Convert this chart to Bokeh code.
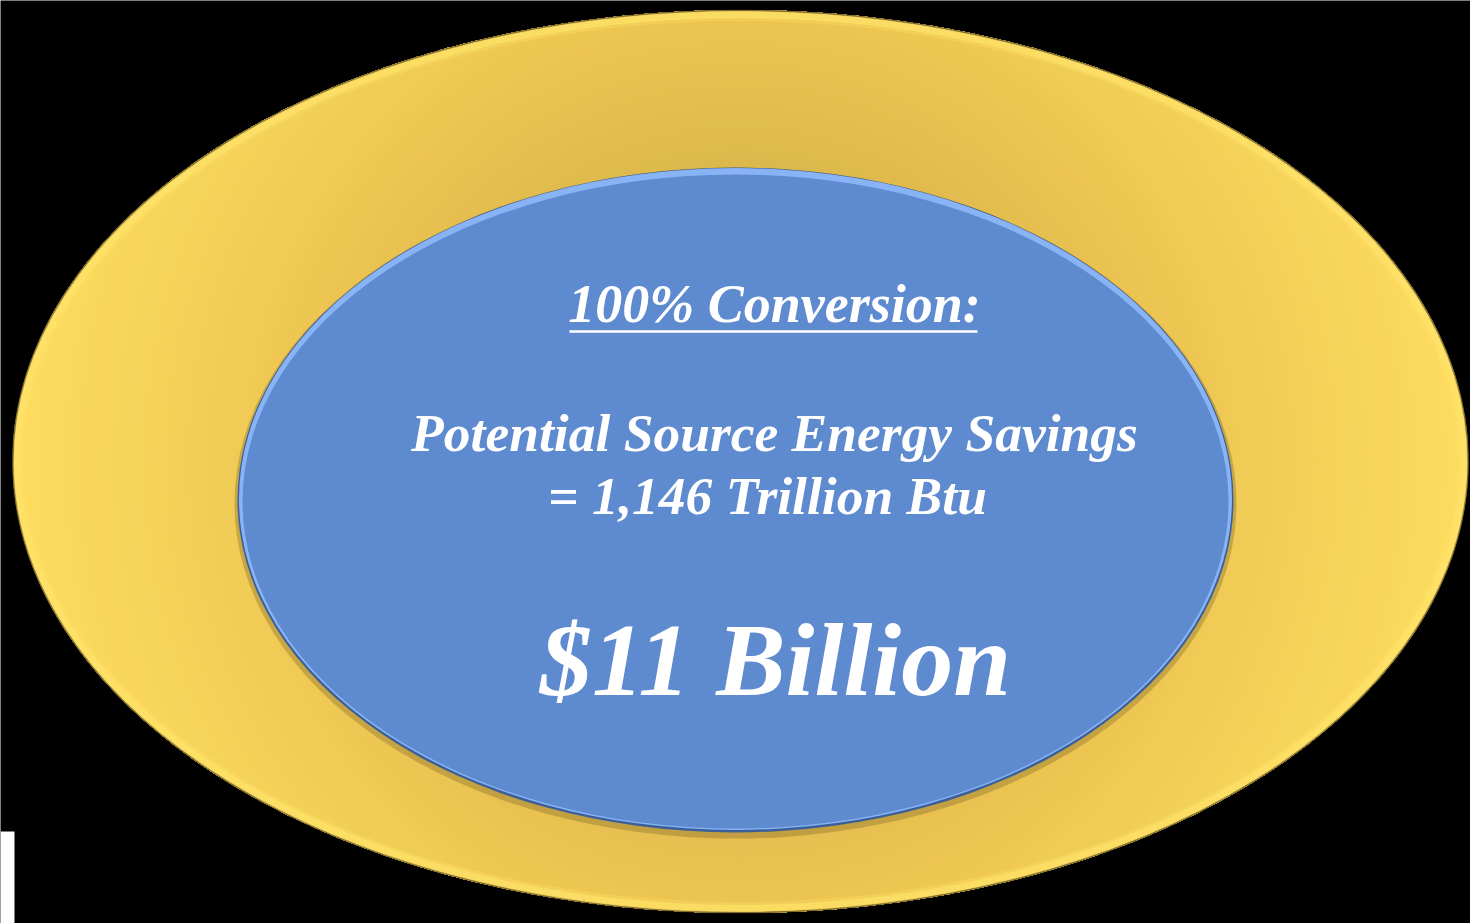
import numpy as np
from bokeh.plotting import figure
from bokeh.models import Range1d
from bokeh.embed import file_html
from bokeh.resources import INLINE
from bokeh.core.properties import value

# ---- shapes (pixel-space coordinates of the reference picture) ----
outer_ellipse = dict(x=740, y=461, w=1456, h=903)
inner_ellipse = dict(x=735, y=499.5, w=996, h=665)
# radial shading of the outer ring: (radius px, colour)
shade_stops = [(280, "#d8b24a"), (300, "#ddb84c"), (450, "#edc552"),
               (505, "#f0cb55"), (620, "#f7d45a"), (740, "#fddd5f")]

# ---- texts ----
title_text = "100% Conversion:"
line1_text = "Potential Source Energy Savings"
line2_text = "= 1,146 Trillion Btu"
big_text = "$11 Billion"

W, H = 1470, 923
p = figure(width=W, height=H, output_backend="svg", toolbar_location=None,
           x_range=Range1d(0, W), y_range=Range1d(H, 0),
           min_border=0)
p.axis.visible = False
p.grid.visible = False
p.outline_line_color = None
p.background_fill_color = "#000000"
p.border_fill_color = "#000000"

def hex2rgb(h):
    h = h.lstrip("#")
    return np.array([int(h[i:i + 2], 16) for i in (0, 2, 4)], dtype=float)

def shade(r):
    rs = [s[0] for s in shade_stops]
    cols = np.array([hex2rgb(s[1]) for s in shade_stops])
    c = [np.interp(r, rs, cols[:, k]) for k in range(3)]
    return "#%02x%02x%02x" % tuple(int(round(v)) for v in c)

oe = outer_ellipse
a, b = oe["w"] / 2, oe["h"] / 2
theta = np.linspace(0, 2 * np.pi, 721)[:-1]
r_ell = a * b / np.sqrt((b * np.cos(theta)) ** 2 + (a * np.sin(theta)) ** 2)

# radial gradient: each layer = disc of radius R intersected with the outer ellipse
radii = np.linspace(735, 280, 60)
layer_xs, layer_ys, layer_cols = [], [], []
for R in radii:
    rr = np.minimum(R, r_ell)
    layer_xs.append(list(oe["x"] + rr * np.cos(theta)))
    layer_ys.append(list(oe["y"] + rr * np.sin(theta)))
    layer_cols.append(shade(R))
p.patches(xs=layer_xs, ys=layer_ys, fill_color=layer_cols, line_color=None)

# soft dark edge and light bevel rim on the outer ellipse
p.ellipse(x=oe["x"], y=oe["y"], width=oe["w"] - 1, height=oe["h"] - 1,
          fill_color=None, line_color="#3a2f10", line_width=2, line_alpha=0.6)
p.ellipse(x=oe["x"], y=oe["y"], width=oe["w"] - 9, height=oe["h"] - 9,
          fill_color=None, line_color="#ffe36a", line_width=7, line_alpha=0.75)
p.ellipse(x=oe["x"], y=oe["y"], width=oe["w"] - 18, height=oe["h"] - 18,
          fill_color=None, line_color="#ffe36a", line_width=4, line_alpha=0.3)

# inner blue ellipse with bevel
ie = inner_ellipse
p.ellipse(x=ie["x"], y=ie["y"] + 3, width=ie["w"] + 6, height=ie["h"] + 6,
          fill_color="#7a6428", fill_alpha=0.35, line_color=None)
p.ellipse(x=ie["x"], y=ie["y"], width=ie["w"], height=ie["h"],
          fill_color="#3d5f98", line_color=None)
p.ellipse(x=ie["x"], y=ie["y"] - 1, width=ie["w"] - 3, height=ie["h"] - 3,
          fill_color="#88b4f6", line_color=None)
p.ellipse(x=ie["x"], y=ie["y"] + 1.5, width=ie["w"] - 10, height=ie["h"] - 11,
          fill_color="#5e8ad0", line_color=None)

# white sliver at bottom-left
p.quad(left=[0], right=[14], top=[831], bottom=[H], fill_color="#ffffff", line_color=None)

font = value("Liberation Serif")
common = dict(text_font=font, text_font_style="bold italic", text_color="#ffffff",
              text_baseline="alphabetic", text_align="center")
p.text(x=[774], y=[303], text=[title_text], text_font_size="54px", **common)
p.segment(x0=[569], y0=[331], x1=[977], y1=[331], line_color="#ffffff", line_width=2.5)
p.text(x=[774], y=[432], text=[line1_text], text_font_size="53.5px", **common)
p.text(x=[767], y=[495], text=[line2_text], text_font_size="53.5px", **common)
# size in pt (a size written as "100px"-like breaks the SVG font parser)
p.text(x=[775], y=[659], text=[big_text], text_font_size="78pt", **common)

html = file_html(p, INLINE, title="100% Conversion")
html = html.replace("<body>", '<body style="background:#000000;">', 1)
open("out.html", "w").write(html)
